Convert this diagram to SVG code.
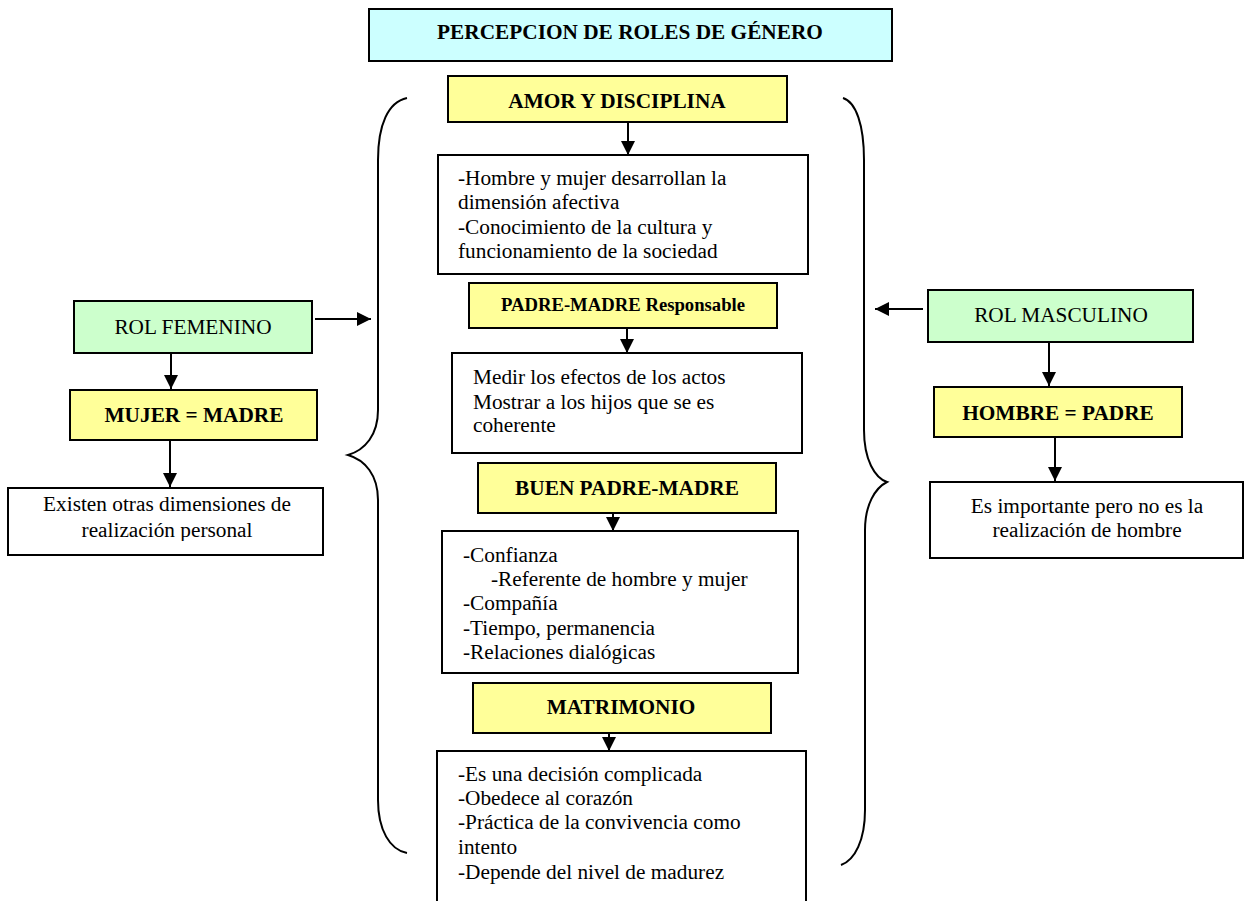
<svg xmlns="http://www.w3.org/2000/svg" width="1244" height="901" viewBox="0 0 1244 901">
<style>
  .box{stroke:#000;stroke-width:2}
  .cyan{fill:#CCFFFF}
  .yel{fill:#FFFF99}
  .grn{fill:#CCFFCC}
  .wht{fill:#FFFFFF}
  text{font-family:"Liberation Serif","Times New Roman",serif;fill:#000}
  .t{font-size:21.3px}
  .b{font-size:21.3px;font-weight:bold}
  .c{text-anchor:middle}
  .con{stroke:#000;stroke-width:2;fill:none}
  .brace{stroke:#000;stroke-width:2;fill:none}
</style>
<defs>
  <marker id="arr" viewBox="0 0 10 10" refX="10" refY="5" markerWidth="14" markerHeight="14" markerUnits="userSpaceOnUse" orient="auto">
    <path d="M0,0 L10,5 L0,10 z" fill="#000"/>
  </marker>
  <clipPath id="clipExisten"><rect x="9" y="489" width="313" height="52"/></clipPath>
</defs>
<rect width="1244" height="901" fill="#FFFFFF"/>

<g id="title">
  <rect class="box cyan" x="369" y="9" width="523" height="52"/>
  <text class="b c" x="630" y="39">PERCEPCION DE ROLES DE GÉNERO</text>
</g>

<g id="braces">
  <path class="brace" d="M407,98 C388,102 378,125 378,160 L378,410 C378,435 365,450 348,455 C365,460 378,475 378,500 L378,800 C378,830 390,850 407,853"/>
  <path class="brace" d="M843,98 C856,102 864,125 864,160 L864,430 C864,460 875,478 887,482 C875,488 865,505 865,530 L865,810 C865,840 855,860 841,865"/>
</g>

<g id="amor">
  <rect class="box yel" x="448" y="76" width="339" height="46"/>
  <text class="b c" x="617" y="108">AMOR Y DISCIPLINA</text>
</g>

<g id="box1">
  <rect class="box wht" x="438" y="155" width="370" height="119"/>
  <text class="t" x="458" y="185">-Hombre y mujer desarrollan la</text>
  <text class="t" x="458" y="209">dimensión afectiva</text>
  <text class="t" x="458" y="234">-Conocimiento de la cultura y</text>
  <text class="t" x="458" y="258">funcionamiento de la sociedad</text>
</g>

<g id="padre-madre-responsable">
  <rect class="box yel" x="469" y="283" width="308" height="45"/>
  <text class="b c" x="623" y="311" style="font-size:18.7px">PADRE-MADRE Responsable</text>
</g>

<g id="box2">
  <rect class="box wht" x="452" y="353" width="350" height="100"/>
  <text class="t" x="473" y="384">Medir los efectos de los actos</text>
  <text class="t" x="473" y="409">Mostrar a los hijos que se es</text>
  <text class="t" x="473" y="432">coherente</text>
</g>

<g id="buen-padre-madre">
  <rect class="box yel" x="478" y="463" width="298" height="50"/>
  <text class="b c" x="627" y="495">BUEN PADRE-MADRE</text>
</g>

<g id="box3">
  <rect class="box wht" x="442" y="531" width="356" height="142"/>
  <text class="t" x="463" y="562">-Confianza</text>
  <text class="t" x="491" y="586">-Referente de hombre y mujer</text>
  <text class="t" x="463" y="610">-Compañía</text>
  <text class="t" x="463" y="635">-Tiempo, permanencia</text>
  <text class="t" x="463" y="659">-Relaciones dialógicas</text>
</g>

<g id="matrimonio">
  <rect class="box yel" x="473" y="683" width="298" height="50"/>
  <text class="b c" x="621" y="714">MATRIMONIO</text>
</g>

<g id="box4">
  <rect class="box wht" x="437" y="751" width="369" height="160"/>
  <text class="t" x="458" y="781">-Es una decisión complicada</text>
  <text class="t" x="458" y="805">-Obedece al corazón</text>
  <text class="t" x="458" y="829">-Práctica de la convivencia como</text>
  <text class="t" x="458" y="854">intento</text>
  <text class="t" x="458" y="879">-Depende del nivel de madurez</text>
</g>

<g id="rol-femenino">
  <rect class="box grn" x="74" y="301" width="238" height="52"/>
  <text class="t c" x="193" y="334">ROL FEMENINO</text>
</g>

<g id="mujer-madre">
  <rect class="box yel" x="70" y="390" width="247" height="50"/>
  <text class="b c" x="194" y="422">MUJER = MADRE</text>
</g>

<g id="existen">
  <rect class="box wht" x="8" y="488" width="315" height="67"/>
  <g clip-path="url(#clipExisten)">
    <text class="t c" x="167" y="511">Existen otras dimensiones de</text>
    <text class="t c" x="167" y="537">realización personal</text>
  </g>
</g>

<g id="rol-masculino">
  <rect class="box grn" x="928" y="290" width="265" height="52"/>
  <text class="t c" x="1061" y="322">ROL MASCULINO</text>
</g>

<g id="hombre-padre">
  <rect class="box yel" x="934" y="387" width="248" height="50"/>
  <text class="b c" x="1058" y="420">HOMBRE = PADRE</text>
</g>

<g id="es-importante">
  <rect class="box wht" x="930" y="482" width="313" height="76"/>
  <text class="t c" x="1087" y="513">Es importante pero no es la</text>
  <text class="t c" x="1087" y="537">realización de hombre</text>
</g>

<g id="connectors">
  <line class="con" x1="628" y1="122" x2="628" y2="155" marker-end="url(#arr)"/>
  <line class="con" x1="627" y1="328" x2="627" y2="353" marker-end="url(#arr)"/>
  <line class="con" x1="613" y1="513" x2="613" y2="531" marker-end="url(#arr)"/>
  <line class="con" x1="609" y1="733" x2="609" y2="751" marker-end="url(#arr)"/>
  <line class="con" x1="315" y1="319" x2="371" y2="319" marker-end="url(#arr)"/>
  <line class="con" x1="171" y1="353" x2="171" y2="389" marker-end="url(#arr)"/>
  <line class="con" x1="170" y1="441" x2="170" y2="487" marker-end="url(#arr)"/>
  <line class="con" x1="923" y1="309" x2="875" y2="309" marker-end="url(#arr)"/>
  <line class="con" x1="1049" y1="342" x2="1049" y2="386" marker-end="url(#arr)"/>
  <line class="con" x1="1055" y1="437" x2="1055" y2="481" marker-end="url(#arr)"/>
</g>
</svg>
